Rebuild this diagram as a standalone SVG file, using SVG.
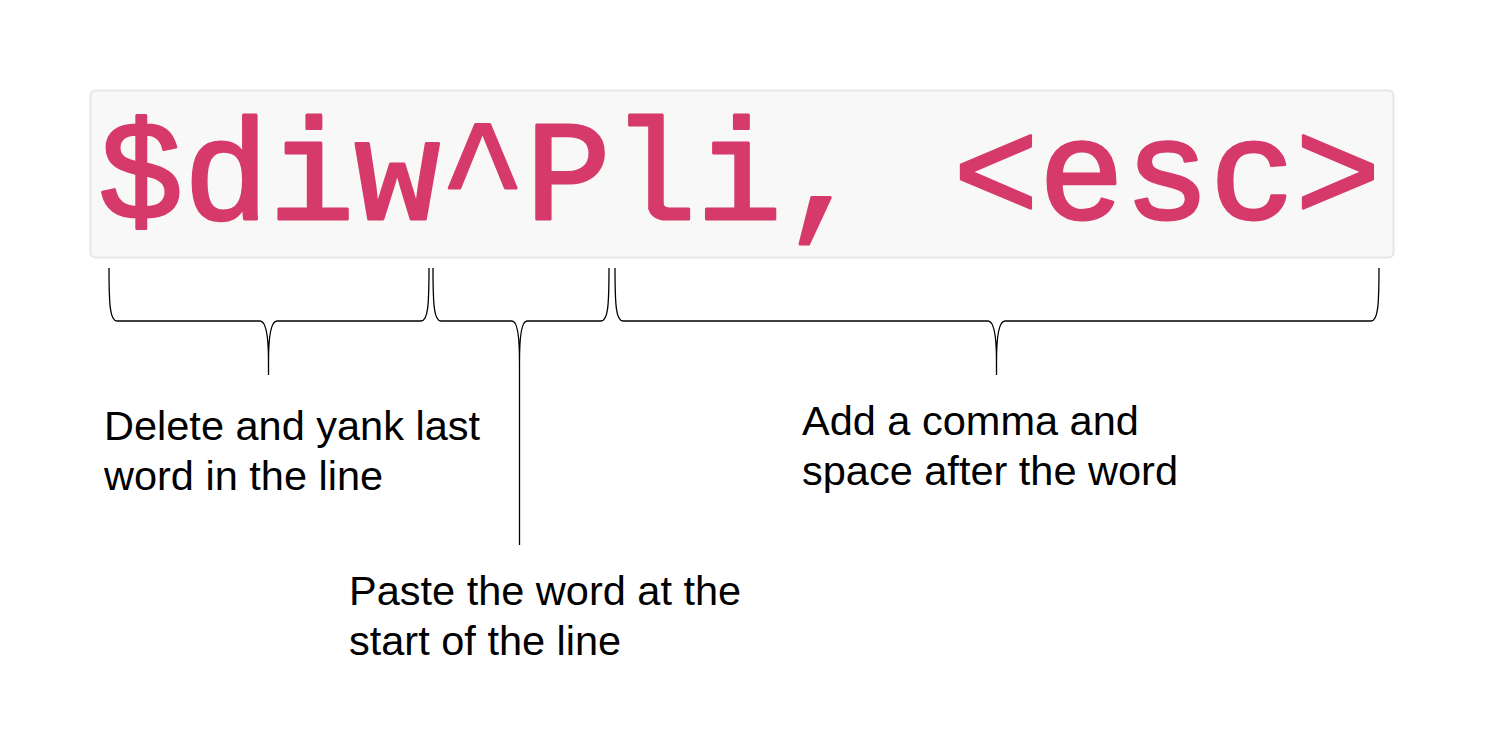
<svg xmlns="http://www.w3.org/2000/svg" width="1495" height="743" viewBox="0 0 1495 743">
<style>
.code{font-family:"Nimbus Mono PS","Courier 10 Pitch","Liberation Mono","Courier New",monospace;font-size:142.5px;font-weight:normal;fill:#d63a6a;stroke:#d63a6a;stroke-width:3;stroke-linejoin:round}
.lbl{font-family:"Liberation Sans",Arial,sans-serif;font-size:41.5px;fill:#000}
.brace{fill:none;stroke:#000;stroke-width:1.3}
</style>
<rect width="1495" height="743" fill="#fff"/>
<g id="code">
<rect x="90.5" y="90.5" width="1303" height="167" rx="5" fill="#f8f8f8" stroke="#e6e6ea" stroke-width="2"/>
<text class="code" x="98" y="219" xml:space="preserve">$diw^Pli, &lt;esc&gt;</text>
</g>
<g id="connectors">
<path class="brace" d="M109,268 C109,305 110,321 117,321 L260,321 C266,321 268.5,335 268.5,362 L268.5,375 M429,268 C429,305 428,321 421,321 L277,321 C271,321 268.5,335 268.5,362"/>
<path class="brace" d="M433,268 C433,305 434,321 441,321 L512,321 C517,321 519.5,335 519.5,362 L519.5,545 M609,268 C609,305 608,321 601,321 L527,321 C522,321 519.5,335 519.5,362"/>
<path class="brace" d="M615,268 C615,305 616,321 623,321 L988,321 C994,321 996.5,335 996.5,362 L996.5,375 M1379,268 C1379,305 1378,321 1371,321 L1005,321 C999,321 996.5,335 996.5,362"/>
</g>
<g id="label-delete">
<text class="lbl" x="104" y="440">Delete and yank last</text>
<text class="lbl" x="104" y="490">word in the line</text>
</g>
<g id="label-paste">
<text class="lbl" x="349" y="605">Paste the word at the</text>
<text class="lbl" x="349" y="655">start of the line</text>
</g>
<g id="label-add">
<text class="lbl" x="802" y="435">Add a comma and</text>
<text class="lbl" x="802" y="485">space after the word</text>
</g>
</svg>
